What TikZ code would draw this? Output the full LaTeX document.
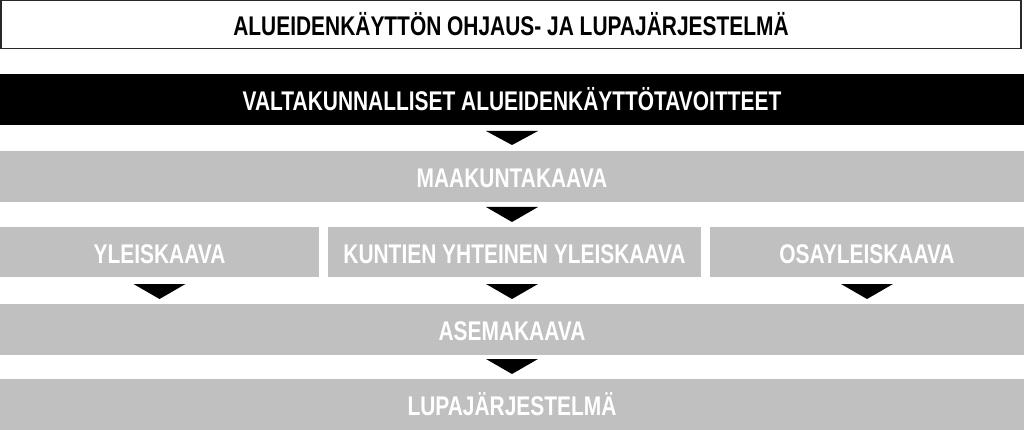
\documentclass[tikz,border=0pt]{standalone}
\usepackage{fontspec}
\usetikzlibrary{calc}
\newfontfamily\condfont{Liberation Sans}[FakeStretch=0.775]
\definecolor{boxgray}{RGB}{192,192,192}
\definecolor{framegray}{RGB}{40,40,40}
\begin{document}
\begin{tikzpicture}[x=1pt,y=-1pt,
  lbl/.style={inner sep=0pt,outer sep=0pt,text height=22pt,text depth=0pt,
    font=\condfont\bfseries\fontsize{27}{30}\selectfont},
  framebox/.style={lbl,draw=framegray,line width=1.5pt,fill=white,text=black},
  blackbox/.style={lbl,fill=black,text=white},
  graybox/.style={lbl,fill=boxgray,text=white},
  tri/.style={fill=black}]
\useasboundingbox (0,0) rectangle (1024,430);
\node[framebox,minimum width=1020pt,minimum height=48pt] (top) at (511,24.75)
  {ALUEIDENKÄYTTÖN OHJAUS- JA LUPAJÄRJESTELMÄ};
\node[blackbox,minimum width=1024pt,minimum height=51pt] (val) at (512,99.5)
  {VALTAKUNNALLISET ALUEIDENKÄYTTÖTAVOITTEET};
\node[graybox,minimum width=1024pt,minimum height=51pt] (maak) at (512,176.5)
  {MAAKUNTAKAAVA};
\node[graybox,minimum width=319pt,minimum height=50pt] (yle) at (159.5,252)
  {YLEISKAAVA};
\node[graybox,minimum width=373pt,minimum height=50pt] (kun) at (514.5,252)
  {KUNTIEN YHTEINEN YLEISKAAVA};
\node[graybox,minimum width=314pt,minimum height=50pt] (osa) at (867,252)
  {OSAYLEISKAAVA};
\node[graybox,minimum width=1024pt,minimum height=51pt] (asema) at (512,329.5)
  {ASEMAKAAVA};
\node[graybox,minimum width=1024pt,minimum height=51pt] (lupa) at (512,404.5)
  {LUPAJÄRJESTELMÄ};
% arrows
\fill[tri] ($(val.south)+(-26,6)$) -- ++(52,0) -- ($(maak.north)+(0,-6)$) -- cycle;
\fill[tri] ($(maak.south)+(-26,5)$) -- ++(52,0) -- ($(kun.north -| maak.south)+(0,-5)$) -- cycle;
\fill[tri] ($(yle.south)+(0,7)+(-26,0)$) -- ++(52,0) -- ($(yle.south |- asema.north)+(0,-5)$) -- cycle;
\fill[tri] ($(kun.south -| asema.north)+(-26,7)$) -- ++(52,0) -- ($(asema.north)+(0,-5)$) -- cycle;
\fill[tri] ($(osa.south)+(-26,7)$) -- ++(52,0) -- ($(osa.south |- asema.north)+(0,-5)$) -- cycle;
\fill[tri] ($(asema.south)+(-26,4)$) -- ++(52,0) -- ($(lupa.north)+(0,-5)$) -- cycle;
\end{tikzpicture}
\end{document}
